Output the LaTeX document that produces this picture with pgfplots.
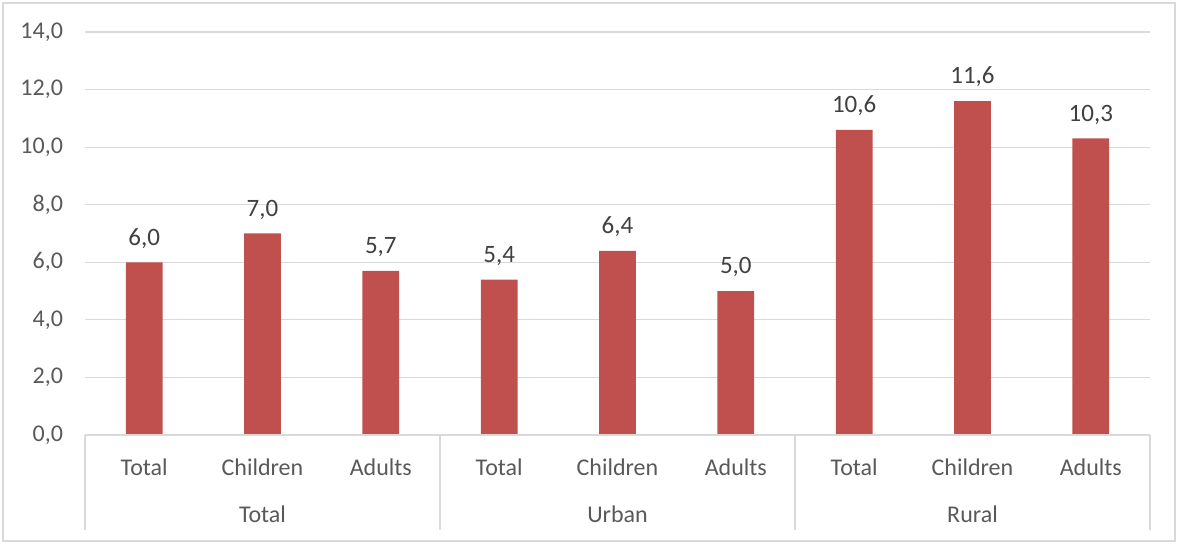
\documentclass[border=0pt]{standalone}
\usepackage{pgfplots}
\pgfplotsset{compat=1.18}
\usepackage{fontspec}
\setmainfont{Carlito}
\definecolor{barred}{HTML}{C0504D}
\definecolor{ticktext}{HTML}{595959}
\definecolor{lbltext}{HTML}{404040}
\definecolor{gridc}{HTML}{D9D9D9}
\begin{document}
\begin{tikzpicture}
\useasboundingbox (0,0) rectangle (589pt,272pt);
\draw[gridc, line width=0.6pt] (1.5pt,1.5pt) rectangle (587.5pt,270.5pt);
\begin{axis}[
  at={(42.5pt,54.5pt)}, anchor=south west,
  scale only axis, width=532.5pt, height=201.5pt,
  xmin=-0.5, xmax=8.5, ymin=0, ymax=14,
  ytick={0,2,...,14},
  axis line style={draw=none},
  ymajorgrids, grid style={gridc, line width=0.6pt},
  major tick style={draw=none},
  xtick={0,...,8},
  xticklabels={Total,Children,Adults,Total,Children,Adults,Total,Children,Adults},
  xticklabel style={font=\fontsize{12}{14}\selectfont, text=ticktext, yshift=-8.5pt},
  yticklabel style={font=\fontsize{12}{14}\selectfont, text=ticktext, xshift=-7.5pt},
  /pgf/number format/.cd, use comma, fixed, fixed zerofill, precision=1, assume math mode=true,
  /pgfplots/.cd,
  clip=false,
  nodes near coords,
  nodes near coords style={font=\fontsize{12.5}{14}\selectfont, text=lbltext, yshift=3.5pt,
    /pgf/number format/.cd, use comma, fixed, fixed zerofill, precision=1, assume math mode=true},
]
\addplot[ybar, bar width=0.31, fill=barred, draw=none] coordinates {
 (0,6.0) (1,7.0) (2,5.7) (3,5.4) (4,6.4) (5,5.0) (6,10.6) (7,11.6) (8,10.3)};
\draw[gridc, line width=0.6pt] (axis cs:-0.5,0) -- (axis cs:8.5,0);
\draw[gridc, line width=0.6pt] (axis cs:-0.5,0) -- ([yshift=-47.5pt]axis cs:-0.5,0);
\draw[gridc, line width=0.6pt] (axis cs:2.5,0) -- ([yshift=-47.5pt]axis cs:2.5,0);
\draw[gridc, line width=0.6pt] (axis cs:5.5,0) -- ([yshift=-47.5pt]axis cs:5.5,0);
\draw[gridc, line width=0.6pt] (axis cs:8.5,0) -- ([yshift=-47.5pt]axis cs:8.5,0);
\node[font=\fontsize{12}{14}\selectfont, text=ticktext] at ([yshift=-39.5pt]axis cs:1,0) {Total};
\node[font=\fontsize{12}{14}\selectfont, text=ticktext] at ([yshift=-39.5pt]axis cs:4,0) {Urban};
\node[font=\fontsize{12}{14}\selectfont, text=ticktext] at ([yshift=-39.5pt]axis cs:7,0) {Rural};
\end{axis}
\end{tikzpicture}
\end{document}
